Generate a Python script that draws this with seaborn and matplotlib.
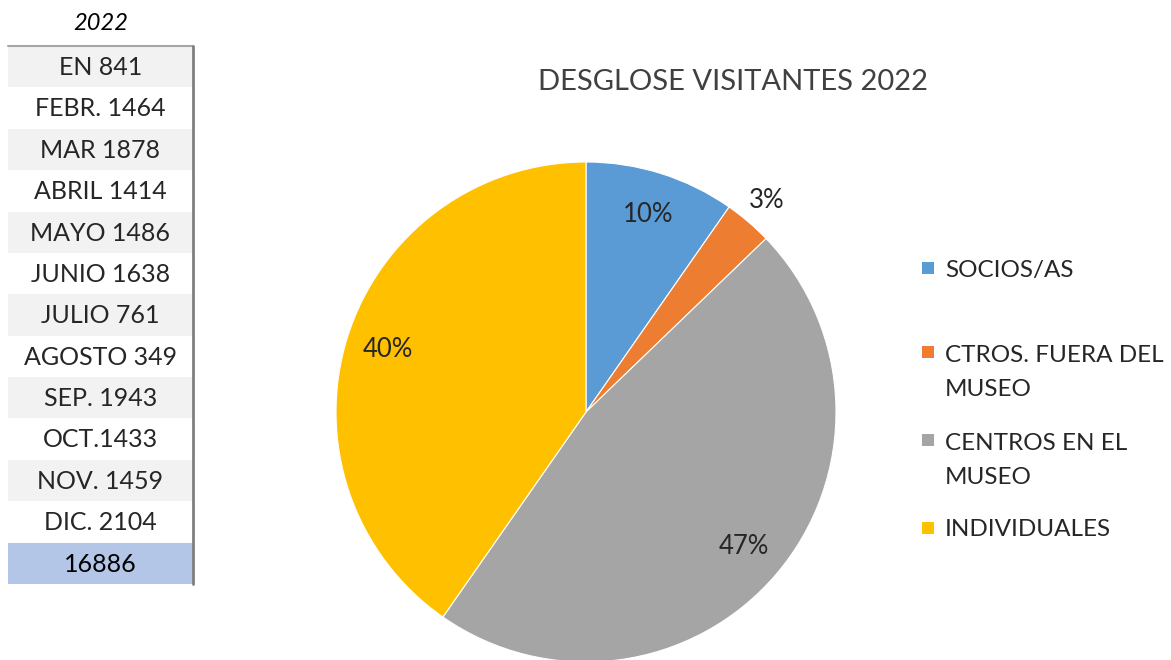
import matplotlib
matplotlib.use("Agg")
import matplotlib.pyplot as plt
import seaborn as sns
from matplotlib.patches import Rectangle

# ---- data ----
months = ["EN ", "FEBR. ", "MAR ", "ABRIL ", "MAYO ", "JUNIO ", "JULIO ",
          "AGOSTO ", "SEP. ", "OCT.", "NOV. ", "DIC. "]
month_visits = [841, 1464, 1878, 1414, 1486, 1638, 761, 349, 1943, 1433, 1459, 2104]
total_visits = 16886
table_header = "2022"

categories = ["SOCIOS/AS", "CTROS. FUERA DEL\nMUSEO", "CENTROS EN EL\nMUSEO", "INDIVIDUALES"]
category_visits = [1638, 523, 7920, 6805]
title = "DESGLOSE VISITANTES 2022"

# ---- style ----
sns.set_theme(style="white")
plt.rcParams["font.family"] = ["Lato", "DejaVu Sans"]
colors = sns.color_palette(["#5B9BD5", "#ED7D31", "#A5A5A5", "#FFC000"])

W, H = 1171, 660
fig = plt.figure(figsize=(W / 100, H / 100), dpi=100)

def fx(x):
    return x / W

def fy(y):
    return 1 - y / H

# ---- table ----
nrows = len(months) + 1
tax = fig.add_axes([fx(8), fy(584), fx(185), (584 - 46) / H])
tax.set_xlim(0, 1)
tax.set_ylim(nrows, 0)
tax.axis("off")
for i in range(nrows):
    if i == nrows - 1:
        fc = "#B4C6E7"
    elif i % 2 == 0:
        fc = "#F2F2F2"
    else:
        fc = "#FFFFFF"
    tax.add_patch(Rectangle((0, i), 1, 1, facecolor=fc, edgecolor="none"))
for i, (m, v) in enumerate(zip(months, month_visits)):
    tax.text(0.5, i + 0.52, f"{m}{v}", ha="center", va="center",
             fontsize=18, color="#262626")
tax.text(0.5, nrows - 1 + 0.52, f"{total_visits}", ha="center", va="center",
         fontsize=18, color="#000000")
tax.plot([0, 1], [0, 0], color="#A6A6A6", lw=1.5, clip_on=False)
tax.plot([1, 1], [0, nrows], color="#7F7F7F", lw=2, clip_on=False)
fig.text(fx(101), fy(23), table_header, ha="center", va="center",
         fontsize=17, fontstyle="italic", color="#000000")

# ---- pie ----
R = 250
pax = fig.add_axes([fx(586 - R), fy(412 + R), fx(2 * R), 2 * R / H])
wedges, texts, autotexts = pax.pie(
    category_visits, colors=colors, startangle=90, counterclock=False,
    autopct=lambda p: f"{p:.0f}%", pctdistance=0.83,
    wedgeprops=dict(edgecolor="white", linewidth=0.8),
    textprops=dict(fontsize=18.5, color="#262626"))
# small slice label placed just outside the pie
small = category_visits.index(min(category_visits))
x0, y0 = autotexts[small].get_position()
scale = 1.11 / 0.83
autotexts[small].set_position((x0 * scale, y0 * scale))
pax.set_xlim(-1, 1)
pax.set_ylim(-1, 1)
pax.set_aspect("equal")
pax.axis("off")

fig.text(fx(733), fy(82), title, ha="center", va="center",
         fontsize=21, color="#404040")

# ---- legend ----
line_gap = 36
for i, (lab, c) in enumerate(zip(categories, colors)):
    ytop = 268 if i == 0 else 352 + 88 * (i - 1)
    nlines = lab.count("\n") + 1
    fig.patches.append(Rectangle((fx(922), fy(ytop + 6)), fx(12), 12 / H,
                                 transform=fig.transFigure, facecolor=c,
                                 edgecolor="none"))
    fig.text(fx(945), fy(ytop + 8.5 + line_gap * (nlines - 1)), lab,
             ha="left", va="baseline", fontsize=17.5, color="#262626",
             linespacing=1.8)

fig.savefig("out.png", dpi=100)
